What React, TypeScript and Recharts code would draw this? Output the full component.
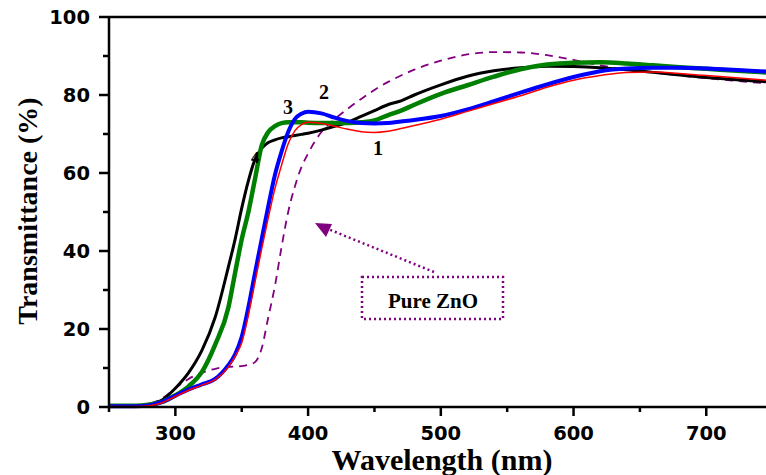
import React from "react";
import { LineChart, Line, XAxis, YAxis, ReferenceLine } from "recharts";

// wavelength grid (nm) used by all samples
const wavelength = [
  250, 260, 270, 280, 290, 300, 310, 320, 330, 340,
  345, 350, 355, 360, 365, 370, 375, 380, 385, 390,
  395, 400, 410, 420, 430, 440, 450, 460, 470, 480,
  500, 520, 540, 560, 580, 600, 620, 640, 660, 680,
  700, 720, 745,
];

// transmittance (%) per sample
const sample1 = [
  0.1, 0.1, 0.1, 0.3, 1.1, 2.7, 4.3, 5.6, 7, 10.3,
  13, 16.5, 23.5, 32, 40.5, 48.5, 56, 62, 67.5, 70.8,
  72.4, 73, 72.7, 72, 71.2, 70.6, 70.4, 70.7, 71.4, 72.2,
  73.8, 75.8, 77.8, 79.8, 82, 83.8, 85, 85.8, 85.9, 85.5,
  85, 84.5, 83.8,
];
const sample2 = [
  0.2, 0.2, 0.2, 0.4, 1.3, 2.9, 4.5, 5.8, 7.2, 10.8,
  13.5, 18, 25.6, 34.4, 43, 51.5, 59.5, 65.5, 70.5, 73.8,
  75.2, 75.7, 75.3, 74.2, 73.3, 72.8, 72.7, 72.8, 73.2, 73.6,
  74.6, 76.3, 78.4, 80.6, 82.7, 84.6, 86.1, 86.8, 87, 87,
  86.8, 86.5, 86,
];
const sample3 = [
  0.3, 0.3, 0.3, 0.6, 1.3, 3, 5.3, 9, 16, 25.6,
  34.4, 43, 50, 58.5, 67, 70.5, 72, 72.8, 73, 73,
  73, 72.9, 72.8, 72.8, 72.8, 73, 73.5, 74.8, 76, 77.5,
  80.3, 82.5, 84.7, 86.6, 87.8, 88.3, 88.4, 88.1, 87.6, 87.1,
  86.7, 86.3, 85.8,
];
const sample4 = [
  0.3, 0.3, 0.3, 0.7, 1.8, 4.8, 8.8, 14.5, 23, 36,
  43, 51, 58, 63.5, 66.3, 67.8, 68.5, 69, 69.3, 69.6,
  69.9, 70.2, 71, 72, 73, 74.5, 76, 77.5, 78.5, 80,
  82.6, 84.8, 86.2, 87, 87.4, 87.3, 87, 86.5, 85.8, 85.1,
  84.5, 84, 83.4,
];
const pureZnO = [
  0.2, 0.2, 0.3, 0.8, 2.2, 4.8, 7.2, 8.8, 9.8, 10.3,
  10.4, 10.5, 10.8, 11.5, 15, 23, 31, 41, 50, 56.5,
  61.5, 65, 70.5, 73.8, 76.5, 79, 81.3, 83.3, 85, 86.5,
  88.8, 90.4, 91, 90.9, 90.2, 89, 87.6, 86.5, 85.8, 85,
  84.3, 83.7, 83,
];

const xTicks = [250, 300, 350, 400, 450, 500, 550, 600, 650, 700];
const yTicks = [0, 10, 20, 30, 40, 50, 60, 70, 80, 90, 100];

const data = wavelength.map((w, i) => ({
  w,
  s1: sample1[i],
  s2: sample2[i],
  s3: sample3[i],
  s4: sample4[i],
  zno: pureZnO[i],
}));

const tickFont = "'DejaVu Sans', Arial, sans-serif";
const titleFont = "'Liberation Serif', 'Times New Roman', serif";

const XTick = (props: any) => {
  const { x, y, payload } = props;
  const major = payload.value % 100 === 0;
  return (
    <g>
      <line x1={x} x2={x} y1={y} y2={y + (major ? 9 : 5)} stroke="#000" strokeWidth={2.5} />
      {major && (
        <text x={x} y={y + 33} textAnchor="middle" fontFamily={tickFont} fontWeight="bold" fontSize={19.5} fill="#000">
          {payload.value}
        </text>
      )}
    </g>
  );
};

const YTick = (props: any) => {
  const { x, y, payload } = props;
  const major = payload.value % 20 === 0;
  return (
    <g>
      <line x1={x} x2={x - (major ? 10 : 6)} y1={y} y2={y} stroke="#000" strokeWidth={2.5} />
      {major && (
        <text x={x - 19} y={y + 7} textAnchor="end" fontFamily={tickFont} fontWeight="bold" fontSize={19.5} fill="#000">
          {payload.value}
        </text>
      )}
    </g>
  );
};

const labelStyle: React.CSSProperties = {
  position: "absolute",
  fontFamily: titleFont,
  fontWeight: "bold",
  fontSize: 20,
  lineHeight: "20px",
  color: "#000",
};

export default function App() {
  return (
    <div style={{ position: "absolute", left: 0, top: 0, width: 766, height: 475, background: "#fff" }}>
      <LineChart width={766} height={475} data={data} margin={{ top: 17, right: 0, bottom: 0, left: 0 }}>
        <XAxis
          dataKey="w"
          type="number"
          domain={[250, 745]}
          ticks={xTicks}
          interval={0}
          height={68}
          tickSize={0}
          tickMargin={0}
          tickLine={false}
          tick={<XTick />}
          axisLine={{ stroke: "#000", strokeWidth: 2.5 }}
        />
        <YAxis
          type="number"
          domain={[0, 100]}
          ticks={yTicks}
          interval={0}
          width={109}
          tickSize={0}
          tickMargin={0}
          tickLine={false}
          tick={<YTick />}
          axisLine={{ stroke: "#000", strokeWidth: 2.5 }}
        />
        <ReferenceLine y={100} stroke="#000" strokeWidth={2.5} />
        <Line dataKey="zno" type="monotone" stroke="#800080" strokeWidth={1.8} strokeDasharray="8 6" dot={false} isAnimationActive={false} />
        <Line dataKey="s4" type="monotone" stroke="#000000" strokeWidth={3} dot={false} isAnimationActive={false} />
        <Line dataKey="s3" type="monotone" stroke="#008000" strokeWidth={4.5} dot={false} isAnimationActive={false} />
        <Line dataKey="s2" type="monotone" stroke="#0000ff" strokeWidth={4} dot={false} isAnimationActive={false} />
        <Line dataKey="s1" type="monotone" stroke="#ff0000" strokeWidth={1.5} dot={false} isAnimationActive={false} />
      </LineChart>

      <svg width={766} height={475} style={{ position: "absolute", left: 0, top: 0, pointerEvents: "none" }}>
        <text x={442} y={470} textAnchor="middle" fontFamily={titleFont} fontWeight="bold" fontSize={30} fill="#000">
          Wavelength (nm)
        </text>
        <text
          x={37}
          y={211}
          textAnchor="middle"
          transform="rotate(-90, 37, 211)"
          fontFamily={titleFont}
          fontWeight="bold"
          fontSize={28}
          fill="#000"
        >
          Transmittance (%)
        </text>
        <line x1={434} y1={272} x2={328} y2={229} stroke="#800080" strokeWidth={2.5} strokeDasharray="2 3" />
        <polygon points="315,223 332,224 326,237" fill="#800080" />
        <rect x={362} y={277} width={141} height={42} fill="none" stroke="#800080" strokeWidth={2.5} strokeDasharray="2 3" />
        <text x={433} y={308} textAnchor="middle" fontFamily={titleFont} fontWeight="bold" fontSize={21} fill="#000">
          Pure ZnO
        </text>
      </svg>

      <div style={{ ...labelStyle, left: 373, top: 138 }}>1</div>
      <div style={{ ...labelStyle, left: 319, top: 82 }}>2</div>
      <div style={{ ...labelStyle, left: 283, top: 97 }}>3</div>
      <div style={{ ...labelStyle, left: 251, top: 148, fontSize: 17 }}>4</div>
    </div>
  );
}
